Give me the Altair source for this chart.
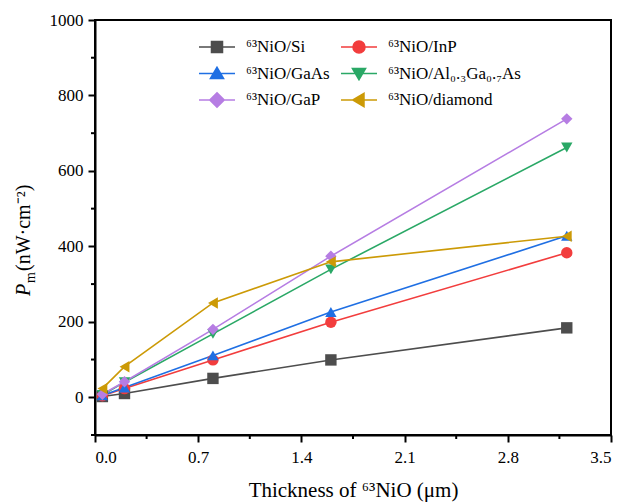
import altair as alt
import pandas as pd

# ---- data ----
thickness = [0.05, 0.2, 0.8, 1.6, 3.2]
series_names = ["⁶³NiO/Si", "⁶³NiO/InP", "⁶³NiO/GaAs", "⁶³NiO/Al₀.₃Ga₀.₇As", "⁶³NiO/GaP", "⁶³NiO/diamond"]
pm_si = [2, 10, 50, 99, 184]
pm_inp = [4, 23, 99, 199, 383]
pm_gaas = [5, 26, 111, 226, 428]
pm_algaas = [6, 40, 168, 339, 662]
pm_gap = [8, 41, 180, 374, 738]
pm_diamond = [23, 81, 250, 359, 427]

x_ticks = [0.0, 0.7, 1.4, 2.1, 2.8, 3.5]
x_minor = [0.35, 1.05, 1.75, 2.45, 3.15]
y_ticks = [0, 200, 400, 600, 800, 1000]
y_minor = [-100, 100, 300, 500, 700, 900]

colors = ["#4d4d4d", "#f23d3d", "#1f6fe3", "#2aa866", "#b67de3", "#cc9a06"]
shapes = ["square", "circle", "triangle-up", "triangle-down", "diamond", "triangle-left"]

FONT = "Liberation Serif"

all_values = [pm_si, pm_inp, pm_gaas, pm_algaas, pm_gap, pm_diamond]
rows = []
for name, vals in zip(series_names, all_values):
    for t, v in zip(thickness, vals):
        rows.append({"series": name, "thickness": t, "pm": v})
df = pd.DataFrame(rows)

# legend symbols: line segment + marker (custom SVG paths)
L = 1.385
legend_paths = [
    f"M-{L},0H{L}M-0.42,-0.42H0.42V0.42H-0.42Z",
    f"M-{L},0H{L}M0.46,0A0.46,0.46 0 1,1 -0.46,0A0.46,0.46 0 1,1 0.46,0Z",
    f"M-{L},0H{L}M0,-0.47L0.5,0.38H-0.5Z",
    f"M-{L},0H{L}M0,0.47L0.5,-0.38H-0.5Z",
    f"M-{L},0H{L}M0,-0.55L0.55,0L0,0.55L-0.55,0Z",
    f"M-{L},0H{L}M-0.47,0L0.38,-0.5V0.5Z",
]
# legend grid: two columns, three rows
legend_cols = [108, 250]
legend_rows = [13, 39.5, 66]

x_scale = alt.Scale(domain=[0, 3.5], nice=False, zero=False)
y_scale = alt.Scale(domain=[-100, 1000], nice=False, zero=False)
x_axis = alt.Axis(values=x_ticks, format=".1f", title="Thickness of ⁶³NiO (μm)",
                  grid=False, tickSize=7, labelPadding=7, titlePadding=14)
y_axis = alt.Axis(values=y_ticks, format="d", title=None, grid=False, tickSize=7, labelPadding=5)

X = alt.X("thickness:Q", scale=x_scale, axis=x_axis)
Y = alt.Y("pm:Q", scale=y_scale, axis=y_axis)
color = alt.Color("series:N", scale=alt.Scale(domain=series_names, range=colors), legend=None)

lines = alt.Chart(df).mark_line(strokeWidth=1.6).encode(x=X, y=Y, color=color)

point_layers = []
for i, (name, shp, col, pth) in enumerate(zip(series_names, shapes, colors, legend_paths)):
    lg = alt.Legend(
        title=None, orient="none",
        legendX=legend_cols[i % 2], legendY=legend_rows[i // 2],
        symbolType=pth, symbolSize=676, symbolStrokeWidth=1.6, symbolOpacity=1,
        symbolStrokeColor=col, symbolFillColor=col,
        labelOffset=15, padding=0,
        labelFont=FONT, labelFontSize=17, labelColor="black",
    )
    point_layers.append(
        alt.Chart(df).transform_filter(alt.datum.series == name)
        .mark_point(filled=True, size=130, opacity=1, shape=shp)
        .encode(
            x=X, y=Y,
            fill=alt.Fill("series:N", scale=alt.Scale(domain=[name], range=[col]), legend=lg),
        )
    )

xminor = alt.Chart(pd.DataFrame({"v": x_minor})).mark_rule(color="black", strokeWidth=2).encode(
    x=alt.X("v:Q", scale=x_scale, axis=x_axis),
    y=alt.value(415), y2=alt.value(419),
)
yminor = alt.Chart(pd.DataFrame({"v": y_minor})).mark_rule(color="black", strokeWidth=2).encode(
    y=alt.Y("v:Q", scale=y_scale, axis=y_axis),
    x=alt.value(0), x2=alt.value(-4),
)

one = pd.DataFrame({"k": [0]})
t_p = alt.Chart(one).mark_text(text="P", font=FONT, fontSize=20, fontStyle="italic", angle=270,
                               align="left", baseline="middle", color="black").encode(
    x=alt.value(-71), y=alt.value(276))
t_m = alt.Chart(one).mark_text(text="m", font=FONT, fontSize=14, angle=270,
                               align="left", baseline="middle", color="black").encode(
    x=alt.value(-64), y=alt.value(263))
t_u = alt.Chart(one).mark_text(text="(nW·cm⁻²)", font=FONT, fontSize=20, angle=270,
                               align="left", baseline="middle", color="black").encode(
    x=alt.value(-71), y=alt.value(251))

chart = alt.layer(lines, *point_layers, xminor, yminor, t_p, t_m, t_u).resolve_scale(
    fill="independent"
).resolve_legend(
    fill="independent"
).properties(
    width=516, height=415, background="white",
    autosize=alt.AutoSizeParams(type="none"),
    padding={"left": 87, "top": 12, "right": 5, "bottom": 70},
).configure_view(
    stroke="black", strokeWidth=2
).configure_axis(
    domainColor="black", domainWidth=2, tickColor="black", tickWidth=2,
    labelFont=FONT, labelFontSize=17, labelColor="black",
    titleFont=FONT, titleFontSize=21, titleColor="black", titleFontWeight="normal",
)

chart.save("out.html", embed_options={"renderer": "svg", "actions": False})
